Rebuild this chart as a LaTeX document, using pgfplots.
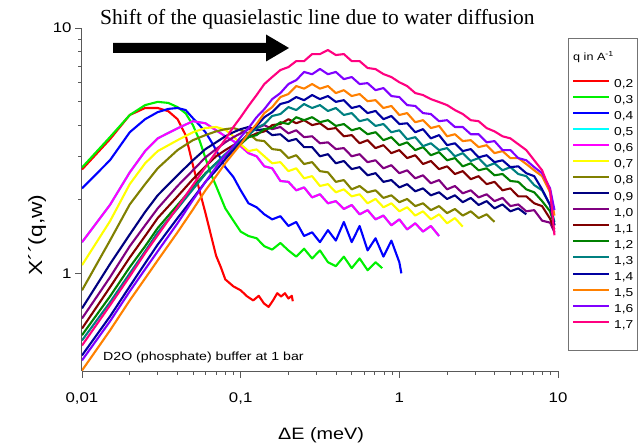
\documentclass[border=0pt]{standalone}
\usepackage{fontspec}
\setmainfont{Liberation Sans}[FakeStretch=1.2]
\newfontfamily\timesfont{Liberation Serif}
\usepackage{pgfplots}
\pgfplotsset{compat=1.18}
\definecolor{cA}{HTML}{FF0000}
\definecolor{cB}{HTML}{00F000}
\definecolor{cC}{HTML}{0000FF}
\definecolor{cD}{HTML}{00FFFF}
\definecolor{cE}{HTML}{FF00FF}
\definecolor{cF}{HTML}{FFFF00}
\definecolor{cG}{HTML}{808000}
\definecolor{cH}{HTML}{000080}
\definecolor{cI}{HTML}{800080}
\definecolor{cJ}{HTML}{800000}
\definecolor{cK}{HTML}{008000}
\definecolor{cL}{HTML}{008080}
\definecolor{cM}{HTML}{0000A0}
\definecolor{cN}{HTML}{FF8000}
\definecolor{cO}{HTML}{8000FF}
\definecolor{cP}{HTML}{FF0080}
\begin{document}
\begin{tikzpicture}[x=1pt,y=1pt]
\useasboundingbox (0,0) rectangle (642,444);
\begin{axis}[
  at={(82pt,73pt)}, anchor=south west, scale only axis,
  width=476pt, height=343pt,
  xmode=log, ymode=log,
  xmin=0.01, xmax=10, ymin=0.4, ymax=10,
  axis x line*=bottom, axis y line*=left,
  axis line style={line width=1pt, black!65},
  tick style={black!65, line width=0.8pt},
  tick align=outside, major tick length=7pt, minor tick length=4pt,
  xtick={0.01,0.1,1,10}, xticklabels={{0,01},{0,1},{1},{10}},
  ytick={1,10}, yticklabels={1,10},
  tick label style={font=\fontsize{14}{14}\selectfont},
  xticklabel style={yshift=-11pt},
  /pgf/number format/assume math mode=true,
  every axis plot/.append style={line width=2.1pt, line join=round},
  legend style={at={(axis description cs:1.0294,0.8513)}, anchor=north west,
    draw=none, fill=none, inner sep=0pt,
    font=\fontsize{11.5}{12}\selectfont,
    nodes={inner sep=0pt, text height=8.5pt, text depth=2pt},
    row sep=5.55pt, column sep=4pt, cells={anchor=west}},
  legend image code/.code={\draw[#1, line width=2pt] (0pt,3.5pt) -- (36pt,3.5pt);},
]
\addplot[cA] coordinates {(0.01,2.65)(0.015,3.52)(0.02,4.42)(0.025,4.72)(0.03,4.72)(0.035,4.58)(0.04,4.25)(0.045,3.66)(0.05,2.76)(0.055,2.18)(0.06,1.76)(0.065,1.43)(0.07,1.18)(0.075,1.06)(0.08,0.945)(0.09,0.885)(0.1,0.853)(0.11,0.805)(0.12,0.776)(0.13,0.81)(0.14,0.755)(0.15,0.73)(0.16,0.776)(0.17,0.83)(0.18,0.805)(0.19,0.83)(0.2,0.79)(0.21,0.81)(0.213,0.77)};
\addlegendentry{0,2}
\addplot[cB] coordinates {(0.01,2.70)(0.015,3.59)(0.02,4.42)(0.025,4.85)(0.03,5.00)(0.035,4.95)(0.04,4.76)(0.045,4.49)(0.05,4.02)(0.055,3.49)(0.06,2.95)(0.065,2.54)(0.07,2.27)(0.08,1.84)(0.09,1.64)(0.1,1.48)(0.112,1.42)(0.126,1.39)(0.141,1.29)(0.158,1.25)(0.178,1.33)(0.2,1.24)(0.224,1.17)(0.251,1.26)(0.282,1.15)(0.316,1.24)(0.355,1.11)(0.398,1.07)(0.447,1.17)(0.501,1.05)(0.562,1.15)(0.631,1.03)(0.708,1.11)(0.78,1.05)};
\addlegendentry{0,3}
\addplot[cC] coordinates {(0.01,2.22)(0.015,2.89)(0.02,3.76)(0.025,4.25)(0.03,4.54)(0.035,4.68)(0.04,4.72)(0.045,4.63)(0.05,4.29)(0.055,4.02)(0.06,3.76)(0.065,3.46)(0.07,3.18)(0.08,2.71)(0.09,2.47)(0.1,2.18)(0.112,1.93)(0.126,1.86)(0.141,1.74)(0.158,1.66)(0.178,1.71)(0.2,1.56)(0.224,1.62)(0.251,1.42)(0.282,1.47)(0.316,1.34)(0.355,1.50)(0.398,1.36)(0.447,1.62)(0.501,1.34)(0.562,1.56)(0.631,1.24)(0.708,1.39)(0.794,1.17)(0.891,1.36)(1,1.11)(1.03,1.0)};
\addlegendentry{0,4}
\addplot[cD] coordinates {(0.01,1.34)(0.015,1.90)(0.02,2.58)(0.025,3.15)(0.03,3.55)(0.04,3.90)(0.05,4.17)(0.06,4.09)(0.07,3.83)(0.08,3.62)(0.09,3.46)(0.1,3.30)(0.112,3.09)(0.126,3.00)(0.141,2.73)(0.158,2.68)(0.178,2.38)(0.2,2.36)(0.224,2.18)(0.251,2.24)(0.282,2.04)(0.316,2.10)(0.355,1.93)(0.398,1.97)(0.447,1.83)(0.501,1.90)(0.562,1.74)(0.631,1.81)(0.708,1.66)(0.794,1.72)(0.891,1.57)(1,1.66)(1.12,1.51)(1.26,1.60)(1.41,1.48)(1.58,1.56)(1.78,1.42)};
\addlegendentry{0,5}
\addplot[cE] coordinates {(0.01,1.34)(0.015,1.90)(0.02,2.58)(0.025,3.15)(0.03,3.55)(0.04,3.90)(0.05,4.17)(0.06,4.09)(0.07,3.83)(0.08,3.62)(0.09,3.46)(0.1,3.30)(0.112,3.09)(0.126,3.00)(0.141,2.73)(0.158,2.68)(0.178,2.38)(0.2,2.36)(0.224,2.18)(0.251,2.24)(0.282,2.04)(0.316,2.10)(0.355,1.93)(0.398,1.97)(0.447,1.83)(0.501,1.90)(0.562,1.74)(0.631,1.81)(0.708,1.66)(0.794,1.72)(0.891,1.57)(1,1.66)(1.12,1.51)(1.26,1.60)(1.41,1.48)(1.58,1.56)(1.78,1.42)};
\addlegendentry{0,6}
\addplot[cF] coordinates {(0.01,1.08)(0.015,1.63)(0.02,2.31)(0.025,2.81)(0.03,3.15)(0.04,3.49)(0.05,3.76)(0.06,3.91)(0.07,3.95)(0.08,3.85)(0.09,3.62)(0.1,3.36)(0.112,3.15)(0.126,3.20)(0.141,3.00)(0.158,2.81)(0.178,2.84)(0.2,2.61)(0.224,2.68)(0.251,2.44)(0.282,2.49)(0.316,2.27)(0.355,2.31)(0.398,2.14)(0.447,2.20)(0.501,2.06)(0.562,2.10)(0.631,1.93)(0.708,2.01)(0.794,1.86)(0.891,1.93)(1,1.79)(1.12,1.86)(1.26,1.72)(1.41,1.79)(1.58,1.66)(1.78,1.74)(2,1.60)(2.24,1.68)(2.51,1.55)};
\addlegendentry{0,7}
\addplot[cG] coordinates {(0.01,0.853)(0.015,1.36)(0.02,1.91)(0.025,2.31)(0.03,2.68)(0.04,3.18)(0.05,3.49)(0.06,3.66)(0.07,3.79)(0.08,3.87)(0.09,3.91)(0.1,3.83)(0.112,3.72)(0.126,3.49)(0.141,3.46)(0.158,3.21)(0.178,3.18)(0.2,2.95)(0.224,3.03)(0.251,2.79)(0.282,2.84)(0.316,2.61)(0.355,2.58)(0.398,2.36)(0.447,2.40)(0.501,2.20)(0.562,2.27)(0.631,2.14)(0.708,2.18)(0.794,2.03)(0.891,2.08)(1,1.95)(1.12,2.01)(1.26,1.88)(1.41,1.93)(1.58,1.81)(1.78,1.88)(2,1.76)(2.24,1.83)(2.51,1.72)(2.82,1.79)(3.16,1.68)(3.55,1.74)(3.98,1.62)};
\addlegendentry{0,8}
\addplot[cH] coordinates {(0.01,0.72)(0.015,1.09)(0.02,1.44)(0.025,1.78)(0.03,2.08)(0.04,2.51)(0.05,2.89)(0.06,3.21)(0.07,3.42)(0.08,3.62)(0.09,3.76)(0.1,3.87)(0.112,3.95)(0.126,3.83)(0.141,3.87)(0.158,3.66)(0.178,3.69)(0.2,3.46)(0.224,3.53)(0.251,3.27)(0.282,3.27)(0.316,3.00)(0.355,3.06)(0.398,2.81)(0.447,2.87)(0.501,2.66)(0.562,2.71)(0.631,2.51)(0.708,2.56)(0.794,2.36)(0.891,2.40)(1,2.24)(1.12,2.31)(1.26,2.16)(1.41,2.22)(1.58,2.08)(1.78,2.14)(2,2.01)(2.24,2.08)(2.51,1.95)(2.82,2.03)(3.16,1.90)(3.55,1.97)(3.98,1.84)(4.47,1.91)(5.01,1.79)(5.62,1.84)(6.31,1.74)};
\addlegendentry{0,9}
\addplot[cI] coordinates {(0.01,0.655)(0.015,0.963)(0.02,1.29)(0.025,1.57)(0.03,1.84)(0.04,2.27)(0.05,2.63)(0.06,2.97)(0.07,3.21)(0.08,3.42)(0.09,3.59)(0.1,3.72)(0.112,3.87)(0.126,3.91)(0.141,4.02)(0.158,3.87)(0.178,3.95)(0.2,3.72)(0.224,3.83)(0.251,3.59)(0.282,3.62)(0.316,3.39)(0.355,3.42)(0.398,3.21)(0.447,3.24)(0.501,3.00)(0.562,3.06)(0.631,2.84)(0.708,2.89)(0.794,2.68)(0.891,2.76)(1,2.56)(1.12,2.63)(1.26,2.44)(1.41,2.51)(1.58,2.33)(1.78,2.40)(2,2.20)(2.24,2.27)(2.51,2.12)(2.82,2.18)(3.16,2.04)(3.55,2.10)(3.98,1.97)(4.47,2.03)(5.01,1.88)(5.62,1.91)(6.31,1.79)(7.08,1.81)(7.94,1.64)(8.91,1.61)(9.5,1.47)};
\addlegendentry{1,0}
\addplot[cJ] coordinates {(0.01,0.596)(0.015,0.877)(0.02,1.16)(0.025,1.42)(0.03,1.68)(0.04,2.06)(0.05,2.42)(0.06,2.73)(0.07,3.00)(0.08,3.18)(0.09,3.33)(0.1,3.46)(0.112,3.59)(0.126,3.72)(0.141,3.79)(0.158,4.02)(0.178,4.06)(0.2,4.25)(0.224,4.09)(0.251,4.21)(0.282,4.02)(0.316,4.09)(0.355,3.87)(0.398,3.91)(0.447,3.62)(0.501,3.66)(0.562,3.39)(0.631,3.49)(0.708,3.24)(0.794,3.33)(0.891,3.09)(1,3.18)(1.12,2.95)(1.26,3.03)(1.41,2.79)(1.58,2.87)(1.78,2.66)(2,2.73)(2.24,2.54)(2.51,2.61)(2.82,2.42)(3.16,2.49)(3.55,2.31)(3.98,2.36)(4.47,2.18)(5.01,2.22)(5.62,2.06)(6.31,2.06)(7.08,1.93)(7.94,1.88)(8.91,1.67)(9.5,1.51)};
\addlegendentry{1,1}
\addplot[cK] coordinates {(0.01,0.56)(0.015,0.805)(0.02,1.06)(0.025,1.29)(0.03,1.53)(0.04,1.90)(0.05,2.24)(0.06,2.56)(0.07,2.81)(0.08,3.00)(0.09,3.18)(0.1,3.36)(0.112,3.59)(0.126,3.66)(0.141,3.87)(0.158,3.91)(0.178,4.13)(0.2,4.06)(0.224,4.33)(0.251,4.21)(0.282,4.33)(0.316,4.13)(0.355,4.21)(0.398,3.99)(0.447,4.06)(0.501,3.83)(0.562,3.91)(0.631,3.69)(0.708,3.76)(0.794,3.49)(0.891,3.59)(1,3.33)(1.12,3.42)(1.26,3.18)(1.41,3.27)(1.58,3.03)(1.78,3.12)(2,2.89)(2.24,2.95)(2.51,2.73)(2.82,2.81)(3.16,2.63)(3.55,2.68)(3.98,2.51)(4.47,2.54)(5.01,2.38)(5.62,2.36)(6.31,2.20)(7.08,2.14)(7.94,1.97)(8.91,1.79)(9.5,1.57)};
\addlegendentry{1,2}
\addplot[cL] coordinates {(0.01,0.533)(0.015,0.762)(0.02,1.00)(0.025,1.23)(0.03,1.47)(0.04,1.84)(0.05,2.20)(0.06,2.54)(0.07,2.81)(0.08,3.06)(0.09,3.27)(0.1,3.46)(0.112,3.66)(0.126,3.91)(0.141,4.06)(0.158,4.38)(0.178,4.46)(0.2,4.76)(0.224,4.63)(0.251,4.90)(0.282,4.72)(0.316,4.85)(0.355,4.59)(0.398,4.72)(0.447,4.42)(0.501,4.50)(0.562,4.17)(0.631,4.25)(0.708,3.99)(0.794,4.06)(0.891,3.76)(1,3.83)(1.12,3.52)(1.26,3.59)(1.41,3.30)(1.58,3.39)(1.78,3.18)(2,3.24)(2.24,3.00)(2.51,3.09)(2.82,2.87)(3.16,2.95)(3.55,2.73)(3.98,2.81)(4.47,2.63)(5.01,2.71)(5.62,2.54)(6.31,2.49)(7.08,2.29)(7.94,2.18)(8.91,1.90)(9.5,1.62)};
\addlegendentry{1,3}
\addplot[cM] coordinates {(0.01,0.463)(0.015,0.667)(0.02,0.885)(0.025,1.10)(0.03,1.31)(0.04,1.68)(0.05,2.02)(0.06,2.36)(0.07,2.63)(0.08,2.92)(0.09,3.18)(0.1,3.42)(0.112,3.72)(0.126,3.99)(0.141,4.33)(0.158,4.54)(0.178,4.90)(0.2,5.00)(0.224,5.23)(0.251,5.08)(0.282,5.33)(0.316,5.13)(0.355,5.28)(0.398,5.00)(0.447,5.08)(0.501,4.72)(0.562,4.81)(0.631,4.50)(0.708,4.59)(0.794,4.25)(0.891,4.38)(1,4.06)(1.12,4.09)(1.26,3.76)(1.41,3.87)(1.58,3.55)(1.78,3.66)(2,3.33)(2.24,3.39)(2.51,3.15)(2.82,3.21)(3.16,2.97)(3.55,3.03)(3.98,2.84)(4.47,2.89)(5.01,2.71)(5.62,2.73)(6.31,2.56)(7.08,2.49)(7.94,2.20)(8.91,1.90)(9.5,1.57)};
\addlegendentry{1,4}
\addplot[cN] coordinates {(0.01,0.402)(0.015,0.585)(0.02,0.776)(0.025,0.954)(0.03,1.13)(0.04,1.47)(0.05,1.82)(0.06,2.18)(0.07,2.49)(0.08,2.81)(0.09,3.09)(0.1,3.36)(0.112,3.72)(0.126,4.06)(0.141,4.50)(0.158,4.76)(0.178,5.23)(0.2,5.38)(0.224,5.80)(0.251,5.66)(0.282,5.91)(0.316,5.66)(0.355,5.80)(0.398,5.43)(0.447,5.58)(0.501,5.28)(0.562,5.38)(0.631,5.03)(0.708,5.08)(0.794,4.72)(0.891,4.81)(1,4.42)(1.12,4.50)(1.26,4.13)(1.41,4.21)(1.58,3.91)(1.78,3.99)(2,3.62)(2.24,3.69)(2.51,3.46)(2.82,3.49)(3.16,3.27)(3.55,3.33)(3.98,3.09)(4.47,3.15)(5.01,2.95)(5.62,2.95)(6.31,2.79)(7.08,2.63)(7.94,2.49)(8.91,2.14)(9.5,1.72)};
\addlegendentry{1,5}
\addplot[cO] coordinates {(0.01,0.442)(0.015,0.637)(0.02,0.845)(0.025,1.04)(0.03,1.23)(0.04,1.60)(0.05,1.99)(0.06,2.36)(0.07,2.71)(0.08,3.03)(0.09,3.30)(0.1,3.59)(0.112,3.91)(0.126,4.33)(0.141,4.67)(0.158,5.13)(0.178,5.43)(0.2,5.91)(0.224,6.13)(0.251,6.62)(0.282,6.48)(0.316,6.81)(0.355,6.48)(0.398,6.62)(0.447,6.19)(0.501,6.31)(0.562,5.91)(0.631,5.96)(0.708,5.58)(0.794,5.69)(0.891,5.28)(1,5.23)(1.12,4.85)(1.26,4.81)(1.41,4.50)(1.58,4.46)(1.78,4.17)(2,4.21)(2.24,3.95)(2.51,3.95)(2.82,3.69)(3.16,3.69)(3.55,3.42)(3.98,3.46)(4.47,3.18)(5.01,3.18)(5.62,2.95)(6.31,2.89)(7.08,2.71)(7.94,2.56)(8.91,2.22)(9.5,1.81)};
\addlegendentry{1,6}
\addplot[cP] coordinates {(0.01,0.508)(0.015,0.740)(0.02,0.972)(0.025,1.21)(0.03,1.43)(0.04,1.86)(0.05,2.29)(0.06,2.71)(0.07,3.12)(0.08,3.52)(0.09,3.95)(0.1,4.33)(0.112,4.81)(0.126,5.33)(0.141,5.91)(0.158,6.31)(0.178,6.74)(0.2,6.93)(0.224,7.33)(0.251,7.33)(0.282,7.83)(0.316,7.83)(0.355,8.13)(0.398,7.76)(0.447,7.83)(0.501,7.33)(0.562,7.33)(0.631,6.87)(0.708,6.80)(0.794,6.49)(0.891,6.31)(1,6.01)(1.12,5.80)(1.26,5.43)(1.41,5.33)(1.58,5.13)(1.78,4.99)(2,4.85)(2.24,4.63)(2.51,4.46)(2.82,4.21)(3.16,4.17)(3.55,3.91)(3.98,3.79)(4.47,3.62)(5.01,3.55)(5.62,3.36)(6.31,3.18)(7.08,2.89)(7.94,2.63)(8.91,2.18)(9.5,1.43)};
\addlegendentry{1,7}
\end{axis}
% legend frame and title
\draw[black!55, line width=0.8pt] (568,94) rectangle (637,406);
\node[anchor=west, inner sep=0pt, font=\fontsize{10.5}{11}\selectfont] at (573,387) {q in A\textsuperscript{-1}};
% annotations
\node[anchor=base west, inner sep=0pt, font=\timesfont\fontsize{21.5}{22}\selectfont] at (100,419) {Shift of the quasielastic line due to water diffusion};
\fill[black] (113,391) -- (266,391) -- (266,382.5) -- (289,396) -- (266,409.5) -- (266,401) -- (113,401) -- cycle;
\node[anchor=base west, inner sep=0pt, font=\fontsize{11.8}{12}\selectfont] at (103,83) {D2O (phosphate) buffer at 1 bar};
\node[anchor=base, inner sep=0pt, font=\fontsize{16.5}{17}\selectfont] at (321,4) {ΔE (meV)};
\node[rotate=90, inner sep=0pt, font=\fontsize{19}{20}\selectfont] at (37,209) {X´´(q,w)};
\end{tikzpicture}
\end{document}
